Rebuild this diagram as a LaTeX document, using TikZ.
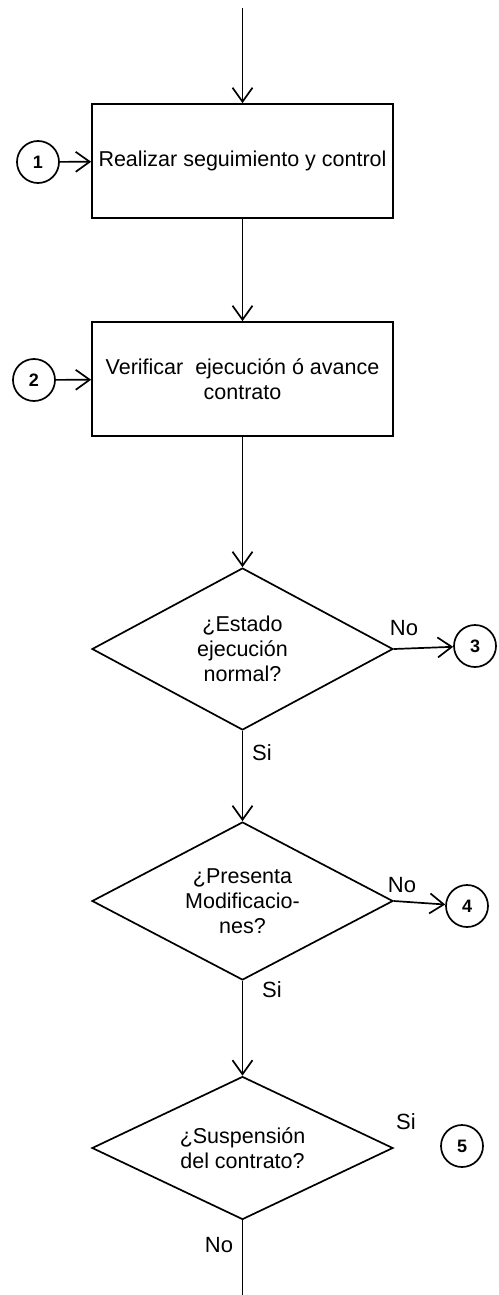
\documentclass[tikz,border=0pt]{standalone}
\usepackage{fontspec}
\setmainfont{Liberation Sans}
\usepackage{tikz}
\usetikzlibrary{arrows.meta,positioning,calc,shapes.geometric}
\tikzstyle{proc}=[draw,rectangle,minimum width=301pt,minimum height=114pt,inner sep=0pt,align=center,font=\fontsize{21.5}{25}\selectfont]
\tikzstyle{decision}=[draw,diamond,aspect=1.9,minimum width=301pt,inner sep=0pt,align=center,font=\fontsize{21.5}{25}\selectfont]
\tikzstyle{conn}=[draw,circle,minimum size=42pt,inner sep=0pt,font=\fontsize{18}{18}\selectfont\bfseries]
\tikzstyle{lbl}=[font=\fontsize{22}{22}\selectfont]

\begin{document}
\begin{tikzpicture}[x=1pt,y=-1pt,line width=1.7pt,>={Straight Barb[length=14pt,width=20pt]}]
\useasboundingbox (0,0) rectangle (498,1295);
\coordinate (start) at (242.5,8);
\coordinate (stop) at (242.5,1295);
\node [proc] (seguir) at (242.5,161) {Realizar seguimiento y control};
\node [proc] (verificar) at (242.5,379) {Verificar\ \ ejecución ó avance\\contrato};
\node [decision,minimum height=162pt] (estado) at (242.5,649) {¿Estado\\ejecución\\normal?};
\node [decision,minimum height=158pt] (modif) at (242.5,901) {¿Presenta\\Modificacio-\\nes?};
\node [decision,minimum height=143pt] (susp) at (242.5,1148) {¿Suspensión\\del contrato?};
\node [conn] (c1) at (38,162) {1};
\node [conn] (c2) at (34,380) {2};
\node [conn] (c3) at (475,646) {3};
\node [conn] (c4) at (467,906) {4};
\node [conn] (c5) at (462,1146) {5};

\draw [->] (start) -- (seguir);
\draw [->] (seguir) -- (verificar);
\draw [->] (verificar) -- (estado);
\draw [->] (estado) -- (modif);
\draw [->] (modif) -- (susp);
\draw (susp) -- (stop);
\draw [->] (c1) -- (seguir);
\draw [->] (c2) -- (verificar);
\draw [->] (estado.east) -- (c3);
\draw [->] (modif.east) -- (c4);

\node [lbl] (no1) at (404,628) {No};
\node [lbl] (si1) at (262,753) {Si};
\node [lbl] (no2) at (402,885) {No};
\node [lbl] (si2) at (272,990) {Si};
\node [lbl] (si3) at (406,1122) {Si};
\node [lbl] (no3) at (219,1245) {No};
\end{tikzpicture}
\end{document}
